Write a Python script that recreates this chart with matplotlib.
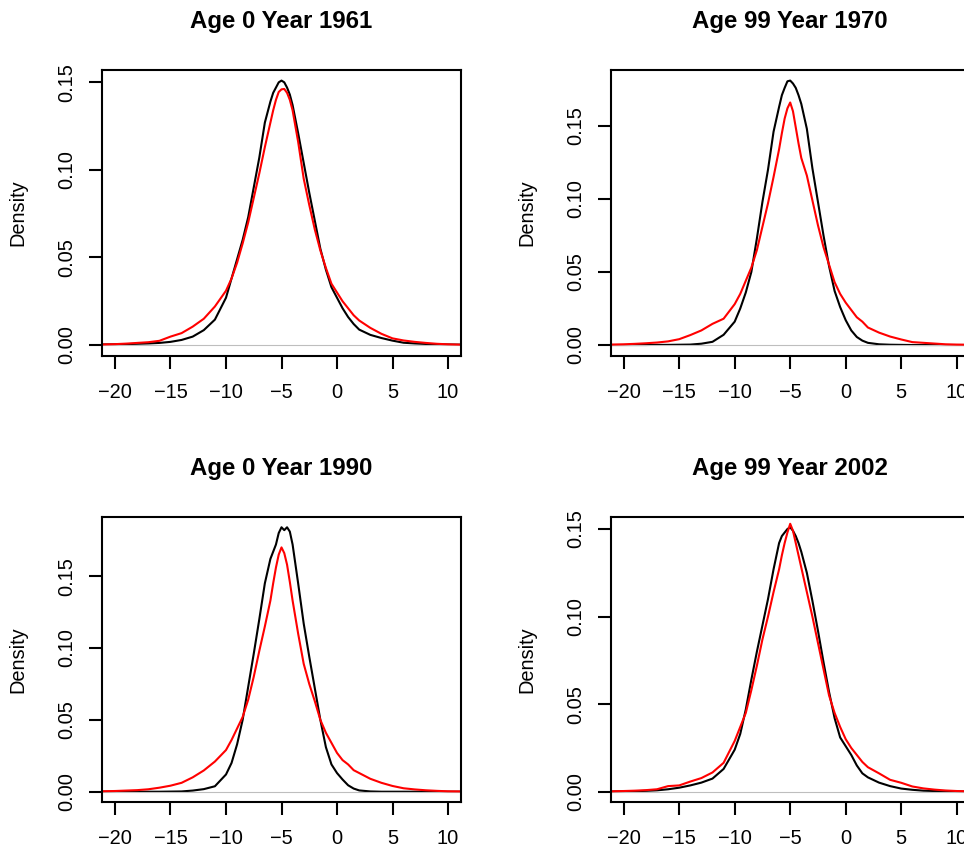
import numpy as np
import matplotlib
matplotlib.use('Agg')
import matplotlib.pyplot as plt
from matplotlib.ticker import FormatStrFormatter

plt.rcParams['font.family'] = ['Liberation Sans', 'DejaVu Sans']

# panel titles
titles = ['Age 0 Year 1961', 'Age 99 Year 1970', 'Age 0 Year 1990', 'Age 99 Year 2002']

# common x grid
x = [-21.2, -20, -19, -18, -17, -16, -15, -14, -13, -12, -11, -10,
     -9.5, -9, -8.5, -8, -7.5, -7, -6.5, -6, -5.75, -5.5, -5.25, -5, -4.75, -4.5, -4.25,
     -4, -3.5, -3, -2.5, -2, -1.5, -1, -0.5,
     0, 0.5, 1, 1.5, 2,
     3, 4, 5, 6, 7, 8, 9, 10, 11.2]

# black = first density, red = second density
black_1961 = [0.0003, 0.0004, 0.0005, 0.0007, 0.0009, 0.0012, 0.0018, 0.0029, 0.0048, 0.0085, 0.0145, 0.027,
              0.038, 0.049, 0.060, 0.073, 0.090, 0.107, 0.127, 0.139, 0.144, 0.147, 0.150, 0.151, 0.150, 0.147, 0.143,
              0.137, 0.121, 0.104, 0.087, 0.071, 0.055, 0.043, 0.033,
              0.027, 0.021, 0.016, 0.012, 0.0088,
              0.0058, 0.0040, 0.0025, 0.0013, 0.0009, 0.0006, 0.0004, 0.0003, 0.0002]
red_1961 = [0.0003, 0.0005, 0.0008, 0.0012, 0.0016, 0.0024, 0.0048, 0.0068, 0.0105, 0.0150, 0.0220, 0.031,
            0.038, 0.047, 0.058, 0.070, 0.084, 0.098, 0.113, 0.127, 0.134, 0.140, 0.1445, 0.146, 0.1462, 0.144, 0.140,
            0.134, 0.116, 0.095, 0.080, 0.066, 0.054, 0.044, 0.035,
            0.030, 0.025, 0.021, 0.017, 0.014,
            0.0098, 0.0064, 0.0038, 0.0026, 0.0018, 0.0012, 0.0007, 0.0004, 0.0002]

black_1970 = [0.0, 0.0, 0.0, 0.0, 0.0001, 0.0001, 0.0002, 0.0003, 0.0009, 0.0022, 0.0070, 0.016,
              0.025, 0.036, 0.050, 0.073, 0.098, 0.120, 0.146, 0.163, 0.171, 0.176, 0.1805, 0.181, 0.179, 0.176, 0.171,
              0.165, 0.148, 0.121, 0.098, 0.075, 0.054, 0.037, 0.026,
              0.017, 0.010, 0.0055, 0.0030, 0.0015,
              0.0005, 0.0002, 0.0001, 0.0, 0.0, 0.0, 0.0, 0.0, 0.0]
red_1970 = [0.0003, 0.0005, 0.0008, 0.0012, 0.0017, 0.0025, 0.0040, 0.0068, 0.010, 0.0145, 0.018, 0.028,
            0.035, 0.044, 0.053, 0.065, 0.081, 0.097, 0.115, 0.134, 0.145, 0.155, 0.162, 0.166, 0.160, 0.149, 0.138,
            0.128, 0.116, 0.099, 0.082, 0.067, 0.055, 0.043, 0.035,
            0.029, 0.024, 0.019, 0.016, 0.012,
            0.0085, 0.0058, 0.0038, 0.0020, 0.0015, 0.0010, 0.0005, 0.0003, 0.0002]

black_1990 = [0.0, 0.0, 0.0, 0.0, 0.0, 0.0, 0.0001, 0.0002, 0.0008, 0.0018, 0.0038, 0.012,
              0.020, 0.033, 0.050, 0.073, 0.096, 0.120, 0.145, 0.162, 0.167, 0.172, 0.180, 0.184, 0.182, 0.184, 0.181,
              0.172, 0.145, 0.117, 0.094, 0.072, 0.050, 0.031, 0.019,
              0.013, 0.0085, 0.0045, 0.0022, 0.0009,
              0.0002, 0.0, 0.0, 0.0, 0.0, 0.0, 0.0, 0.0, 0.0]
red_1990 = [0.0003, 0.0005, 0.0008, 0.0011, 0.0017, 0.0028, 0.0042, 0.0062, 0.010, 0.0148, 0.021, 0.029,
            0.036, 0.044, 0.052, 0.064, 0.080, 0.098, 0.115, 0.133, 0.145, 0.156, 0.165, 0.170, 0.166, 0.158, 0.146,
            0.133, 0.110, 0.089, 0.075, 0.063, 0.050, 0.041, 0.034,
            0.027, 0.022, 0.019, 0.015, 0.013,
            0.009, 0.0062, 0.0040, 0.0024, 0.0016, 0.0010, 0.0006, 0.0003, 0.0002]

black_2002 = [0.0001, 0.0002, 0.0003, 0.0005, 0.0008, 0.0014, 0.0023, 0.0036, 0.0052, 0.0075, 0.013, 0.024,
              0.033, 0.047, 0.064, 0.080, 0.095, 0.110, 0.127, 0.142, 0.146, 0.148, 0.150, 0.151, 0.149, 0.146, 0.142,
              0.137, 0.125, 0.109, 0.092, 0.074, 0.057, 0.042, 0.031,
              0.026, 0.021, 0.015, 0.0105, 0.0082,
              0.0052, 0.0032, 0.0018, 0.0011, 0.0006, 0.0004, 0.0002, 0.0001, 0.0001]
red_2002 = [0.0002, 0.0004, 0.0006, 0.0009, 0.0014, 0.0032, 0.0036, 0.0058, 0.0078, 0.011, 0.0165, 0.029,
            0.037, 0.045, 0.058, 0.072, 0.087, 0.100, 0.114, 0.127, 0.135, 0.142, 0.148, 0.153, 0.149, 0.142, 0.135,
            0.128, 0.114, 0.100, 0.085, 0.070, 0.055, 0.045, 0.037,
            0.030, 0.025, 0.021, 0.017, 0.014,
            0.0105, 0.0068, 0.0051, 0.0030, 0.0019, 0.0012, 0.0007, 0.0004, 0.0002]

xticks = [-20, -15, -10, -5, 0, 5, 10]
yticks = [0.0, 0.05, 0.10, 0.15]

panels = [(black_1961, red_1961), (black_1970, red_1970),
          (black_1990, red_1990), (black_2002, red_2002)]

W, H = 964.0, 851.0
fig = plt.figure(figsize=(W / 100, H / 100), dpi=100)

# left/top corner of each plot box in pixels (right column runs off the page)
corners = [(102, 70), (610.7, 70), (102, 516.7), (610.7, 516.7)]
aw, ah = 359.0, 285.6

for title, (blk, red), (l, t) in zip(titles, panels, corners):
    ax = fig.add_axes([l / W, 1 - (t + ah) / H, aw / W, ah / H])
    ax.plot(x, blk, color='black', lw=1.5)
    ax.axhline(0, color='#bebebe', lw=0.8)
    ax.plot(x, red, color='red', lw=1.5)

    ymax = max(blk)
    ax.set_ylim(-0.04 * ymax, 1.04 * ymax)
    ax.set_xlim(-21.17, 11.17)
    ax.set_xticks(xticks)
    ax.set_yticks(yticks)
    ax.yaxis.set_major_formatter(FormatStrFormatter('%.2f'))

    for s in ax.spines.values():
        s.set_linewidth(1.5)
    ax.tick_params(direction='out', length=9.4, width=1.5, labelsize=14.4)
    ax.tick_params(axis='x', pad=10)
    ax.tick_params(axis='y', pad=9)
    plt.setp(ax.get_yticklabels(), rotation=90, va='center')

    ax.set_ylabel('Density', fontsize=14.4, va='center')
    ax.yaxis.set_label_coords(-84 / aw, 0.5)
    ax.set_title(title, fontsize=17.3, fontweight='bold', pad=30)

fig.savefig('out.png', dpi=100)
